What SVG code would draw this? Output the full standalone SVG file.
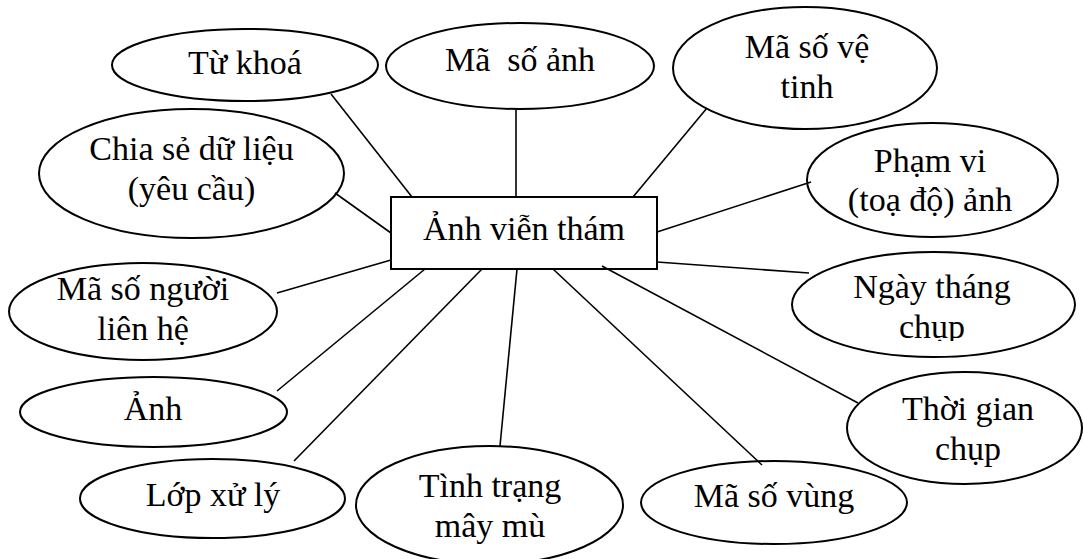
<svg xmlns="http://www.w3.org/2000/svg" width="1083" height="559" viewBox="0 0 1083 559">
<style>
.n{fill:#fff;stroke:#000;stroke-width:2}
.t{font-family:"Liberation Serif","Times New Roman",serif;font-size:34px;fill:#000;text-anchor:middle}
.c line{stroke:#000;stroke-width:1.6}
</style>
<defs>
<clipPath id="cl1"><rect x="780" y="250" width="300" height="91"/></clipPath>
</defs>
<rect width="1083" height="559" fill="#fff"/>
<g id="n-tukhoa"><ellipse class="n" cx="245" cy="65" rx="133" ry="36"/><text class="t" x="245" y="74">Từ khoá</text></g>
<g id="n-masoanh"><ellipse class="n" cx="520" cy="66" rx="134" ry="43"/><text class="t" x="520" y="71" xml:space="preserve">Mã  số ảnh</text></g>
<g id="n-masovetinh"><ellipse class="n" cx="805" cy="68" rx="132" ry="61"/><text class="t" x="807" y="58">Mã số vệ</text><text class="t" x="807" y="98">tinh</text></g>
<g id="n-phamvi"><ellipse class="n" cx="932.5" cy="180" rx="125.5" ry="57"/><text class="t" x="930" y="172">Phạm vi</text><text class="t" x="930" y="211">(toạ độ) ảnh</text></g>
<g id="n-ngaythang"><ellipse class="n" cx="933.5" cy="304.5" rx="141.5" ry="52.5"/><g clip-path="url(#cl1)"><text class="t" x="932" y="298">Ngày tháng</text><text class="t" x="932" y="338">chụp</text></g></g>
<g id="n-thoigian"><ellipse class="n" cx="964.5" cy="428" rx="117.5" ry="56"/><text class="t" x="968" y="420">Thời gian</text><text class="t" x="968" y="460">chụp</text></g>
<g id="n-masovung"><ellipse class="n" cx="774" cy="502.5" rx="133" ry="41.5"/><text class="t" x="774" y="507">Mã số vùng</text></g>
<g id="n-tinhtrang"><ellipse class="n" cx="489.5" cy="505" rx="133.5" ry="59"/><text class="t" x="490" y="497">Tình trạng</text><text class="t" x="490" y="537">mây mù</text></g>
<g id="n-lopxuly"><ellipse class="n" cx="212.5" cy="498.5" rx="132.5" ry="39.5"/><text class="t" x="213" y="506">Lớp xử lý</text></g>
<g id="n-anh"><ellipse class="n" cx="153.5" cy="412" rx="133.5" ry="35"/><text class="t" x="153" y="420">Ảnh</text></g>
<g id="n-masonguoi"><ellipse class="n" cx="143" cy="311.5" rx="134" ry="48.5"/><text class="t" x="143" y="300">Mã số người</text><text class="t" x="143" y="340">liên hệ</text></g>
<g id="n-chiase"><ellipse class="n" cx="191.5" cy="173.5" rx="152.5" ry="64.5"/><text class="t" x="191.5" y="160">Chia sẻ dữ liệu</text><text class="t" x="191.5" y="200">(yêu cầu)</text></g>
<g id="n-center"><rect class="n" x="391" y="197" width="266" height="72"/><text class="t" x="524" y="240">Ảnh viễn thám</text></g>
<g id="connectors" class="c">
<line x1="331" y1="94" x2="412" y2="197"/>
<line x1="516" y1="110" x2="516" y2="197"/>
<line x1="707" y1="108" x2="633" y2="197"/>
<line x1="657" y1="232" x2="811" y2="182"/>
<line x1="657" y1="262" x2="809" y2="273"/>
<line x1="602" y1="266" x2="858" y2="403"/>
<line x1="553" y1="269" x2="762" y2="465"/>
<line x1="517" y1="269" x2="500" y2="446"/>
<line x1="482" y1="269" x2="294" y2="461"/>
<line x1="425" y1="269" x2="277" y2="391"/>
<line x1="391" y1="260" x2="277" y2="293"/>
<line x1="391" y1="233" x2="335" y2="193"/>
</g>
</svg>
